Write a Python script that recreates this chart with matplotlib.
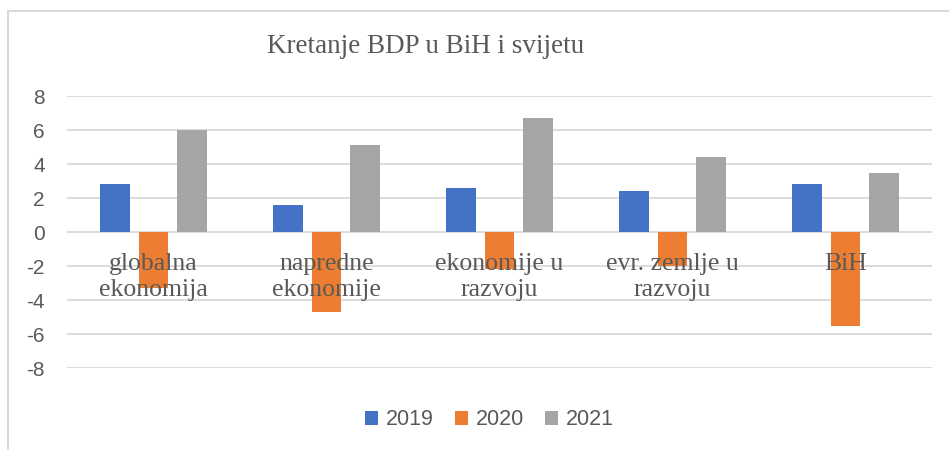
import numpy as np
import matplotlib.pyplot as plt
from matplotlib.patches import Rectangle

# GDP growth, BiH vs world
categories = ["globalna\nekonomija", "napredne\nekonomije", "ekonomije u\nrazvoju",
              "evr. zemlje u\nrazvoju", "BiH"]
years = ["2019", "2020", "2021"]
v2019 = [2.8, 1.6, 2.6, 2.4, 2.8]
v2020 = [-3.3, -4.7, -2.2, -2.0, -5.5]
v2021 = [6.0, 5.1, 6.7, 4.4, 3.5]
colors = ["#4472C4", "#ED7D31", "#A5A5A5"]
yticks = [-8, -6, -4, -2, 0, 2, 4, 6, 8]

fig = plt.figure(figsize=(9.49, 4.5), dpi=100)
ax = fig.add_axes([0.0706, 0.1822, 0.9115, 0.6044])

# light chart border like excel
fig.patches.append(Rectangle((8/949, -0.2), 1.2, 1.2 - 11/450, transform=fig.transFigure,
                             fill=False, edgecolor="#d9d9d9", lw=1.5))

x = np.arange(len(categories))
w = 0.17
off = 0.223
for i, (vals, yr) in enumerate(zip([v2019, v2020, v2021], years)):
    ax.bar(x + (i - 1) * off, vals, w, color=colors[i], label=yr, zorder=3)

ax.set_xlim(-0.5, len(categories) - 0.5)
ax.set_ylim(-8, 8)
ax.set_yticks(yticks)
ax.set_yticklabels([str(t) for t in yticks], family="Liberation Sans", fontsize=15, color="#595959")
ax.tick_params(axis="y", length=0, pad=16)
ax.set_xticks([])
ax.grid(axis="y", color="#d9d9d9", lw=1.3, zorder=0)
for s in ax.spines.values():
    s.set_visible(False)

for xi, lab in zip(x, categories):
    ax.text(xi, -1.25, lab, ha="center", va="top", multialignment="center",
            family="Liberation Serif", fontsize=18.5, color="#595959", zorder=4)

fig.text(0.448, 0.896, "Kretanje BDP u BiH i svijetu", ha="center", va="center",
         family="Liberation Serif", fontsize=19.5, color="#595959")

leg = fig.legend(loc="center", bbox_to_anchor=(0.516, 0.067), ncol=3, frameon=False,
                 prop={"family": "Liberation Sans", "size": 15.5}, handlelength=0.6,
                 handleheight=0.6, handletextpad=0.35, columnspacing=1.0)
for t in leg.get_texts():
    t.set_color("#595959")

fig.savefig("out.png", dpi=100)
